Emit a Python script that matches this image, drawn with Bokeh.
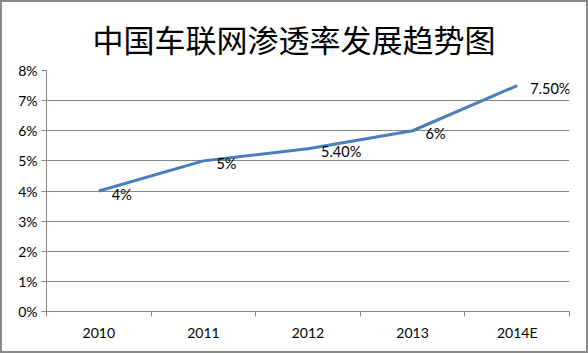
from bokeh.plotting import figure
from bokeh.models import ColumnDataSource, FixedTicker, Range1d, LabelSet
from bokeh.core.properties import value
from bokeh.embed import file_html
from bokeh.resources import INLINE

categories = ["2010", "2011", "2012", "2013", "2014E"]
values = [4.0, 5.0, 5.4, 6.0, 7.5]
value_labels = ["4%", "5%", "5.40%", "6%", "7.50%"]
y_ticks = [0, 1, 2, 3, 4, 5, 6, 7, 8]
title_text = "中国车联网渗透率发展趋势图"

xs = [i + 0.5 for i in range(len(categories))]
src = ColumnDataSource(dict(x=xs, y=values, lab=value_labels))

p = figure(width=588, height=353, output_backend="svg", toolbar_location=None,
           x_range=Range1d(0, len(categories)), y_range=Range1d(0, 8),
           min_border_left=44, min_border_right=21, min_border_top=68,
           min_border_bottom=44, title=title_text)
p.styles = {"border": "2px solid #8a8a8a", "box-sizing": "border-box"}

p.title.align = "left"
p.title.text_font = "Noto Sans CJK SC"
p.title.text_font_size = "31px"
p.title.text_font_style = "normal"
p.title.text_color = "#000000"
p.title.offset = 46
p.title.standoff = 20

p.outline_line_color = None
p.background_fill_color = "white"
p.border_fill_color = "white"

p.line(x="x", y="y", source=src, line_color="#4a7ebb", line_width=3, line_join="round")
p.add_layout(LabelSet(x="x", y="y", text="lab", source=src, x_offset=13, y_offset=-3,
                      text_align="left", text_baseline="middle",
                      text_font=value("Lato"), text_font_size="14.5px", text_color="#000000"))

# y axis
p.yaxis.ticker = FixedTicker(ticks=y_ticks)
p.yaxis.major_label_overrides = {t: f"{t}%" for t in y_ticks}
p.yaxis.axis_line_color = "#868686"
p.yaxis.major_tick_line_color = "#868686"
p.yaxis.major_tick_out = 5
p.yaxis.major_tick_in = 0
p.yaxis.minor_tick_line_color = None
p.yaxis.major_label_text_font = "Lato"
p.yaxis.major_label_text_font_size = "14px"
p.yaxis.major_label_text_color = "#000000"
p.yaxis.major_label_standoff = 4

# x axis
p.xaxis.ticker = FixedTicker(ticks=xs, minor_ticks=list(range(len(categories) + 1)))
p.xaxis.major_label_overrides = {x: c for x, c in zip(xs, categories)}
p.xaxis.axis_line_color = "#868686"
p.xaxis.major_tick_line_color = None
p.xaxis.minor_tick_line_color = "#868686"
p.xaxis.minor_tick_out = 5
p.xaxis.minor_tick_in = 0
p.xaxis.major_label_text_font = "Lato"
p.xaxis.major_label_text_font_size = "14px"
p.xaxis.major_label_text_color = "#000000"
p.xaxis.major_label_standoff = 6

p.xgrid.grid_line_color = None
p.ygrid.grid_line_color = "#868686"
p.ygrid.grid_line_width = 1

open("out.html", "w").write(file_html(p, INLINE))
